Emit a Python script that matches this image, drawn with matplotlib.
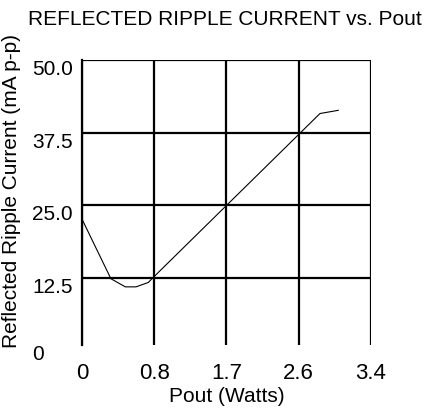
import matplotlib
matplotlib.use('Agg')
import matplotlib.pyplot as plt

# Data
pout = [0, 0.34, 0.51, 0.635, 0.78, 0.83, 2.80, 3.015]
ripple = [22.65, 12.4, 11.0, 11.0, 11.75, 12.5, 40.8, 41.35]

x_ticks = [0, 0.85, 1.7, 2.55, 3.4]
x_labels = ['0', '0.8', '1.7', '2.6', '3.4']
y_ticks = [12.5, 25.0, 37.5, 50.0]
y_labels = ['12.5', '25.0', '37.5', '50.0']
Y_BOTTOM = 1.0  # axis bottom, labelled "0" in the original

plt.rcParams['font.family'] = ['Liberation Sans', 'DejaVu Sans']

fig = plt.figure(figsize=(4.25, 4.13), dpi=100)
ax = fig.add_axes([0.1929, 0.1646, 0.68, 0.6901])

ax.plot(pout, ripple, color='black', linewidth=0.8)

ax.set_xlim(0, 3.4)
ax.set_ylim(Y_BOTTOM, 50)
ax.set_xticks(x_ticks, x_labels)
ax.set_yticks(y_ticks, y_labels)
ax.set_yticks([Y_BOTTOM], ['0'], minor=True)

for side in ['top', 'right', 'bottom']:
    ax.spines[side].set_visible(False)
ax.spines['left'].set_linewidth(1.6)

ax.grid(True, which='major', color='black', linewidth=1.6)
ax.tick_params(axis='x', length=0, pad=13, labelsize=16)
ax.tick_params(axis='y', which='both', length=0, pad=36, labelsize=15)
for lab in ax.get_yticklabels(which='both'):
    lab.set_horizontalalignment('left')
    lab.set_verticalalignment('top')

ax.set_title('REFLECTED RIPPLE CURRENT vs. Pout', fontsize=15, pad=25, x=0.493)
ax.set_xlabel('Pout (Watts)', fontsize=15, labelpad=2)
ax.set_ylabel('Reflected Ripple Current (mA p-p)', fontsize=15)
ax.yaxis.set_label_coords(-0.211, 0.539)

fig.savefig('out.png', dpi=100)
